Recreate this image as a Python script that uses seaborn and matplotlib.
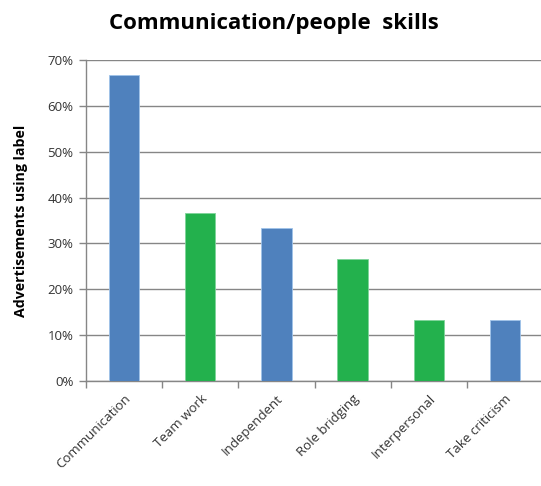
import matplotlib
matplotlib.use("Agg")
import matplotlib.pyplot as plt
from matplotlib.ticker import FixedLocator, PercentFormatter
import seaborn as sns
import pandas as pd

categories = ["Communication", "Team work", "Independent", "Role bridging",
              "Interpersonal", "Take criticism"]
shares = [66.7, 36.7, 33.3, 26.7, 13.3, 13.3]
bar_colors = ["#4F81BD", "#23B14D", "#4F81BD", "#23B14D", "#23B14D", "#4F81BD"]
y_ticks = [0, 10, 20, 30, 40, 50, 60, 70]

sns.set_style("white")
plt.rcParams["font.family"] = ["Open Sans", "DejaVu Sans"]

df = pd.DataFrame({"skill": categories, "share": shares})

fig = plt.figure(figsize=(5.41, 4.86), dpi=100)
ax = fig.add_axes([86 / 541, 1 - 381 / 486, 457 / 541, 321 / 486])

sns.barplot(data=df, x="skill", y="share", hue="skill", palette=bar_colors,
            legend=False, width=0.4, saturation=1, ax=ax,
            linewidth=0.6, zorder=3)
for patch, c in zip(ax.patches, bar_colors):
    patch.set_edgecolor("#9FC3EA" if c == "#4F81BD" else "#7FD49A")

ax.set_xlim(-0.5, len(categories) - 0.5)
ax.set_ylim(0, 70)
ax.set_yticks(y_ticks)
ax.yaxis.set_major_formatter(PercentFormatter(decimals=0))
ax.grid(axis="y", color="#868686", linewidth=1.0, zorder=0)
ax.set_axisbelow(True)

for side in ["top", "right"]:
    ax.spines[side].set_visible(False)
for side in ["left", "bottom"]:
    ax.spines[side].set_color("#868686")
    ax.spines[side].set_linewidth(1.0)

ax.tick_params(axis="y", which="major", length=5, width=1, color="#868686",
               labelsize=9.5, labelcolor="#333333", left=True, pad=4)
ax.xaxis.set_minor_locator(FixedLocator([i - 0.5 for i in range(len(categories) + 1)]))
ax.tick_params(axis="x", which="major", length=0, labelsize=9.5,
               labelcolor="#333333", pad=8)
ax.tick_params(axis="x", which="minor", length=5, width=1, color="#868686",
               bottom=True)
plt.setp(ax.get_xticklabels(), rotation=45, ha="right", rotation_mode="anchor")

ax.set_xlabel("")
ax.set_ylabel("Advertisements using label", fontsize=10.2, fontweight="bold",
              color="black", labelpad=14)

fig.text(274 / 541, 1 - 23 / 486, "Communication/people  skills",
         ha="center", va="center", fontsize=16, fontweight="bold",
         color="black")

fig.savefig("out.png", dpi=100)
